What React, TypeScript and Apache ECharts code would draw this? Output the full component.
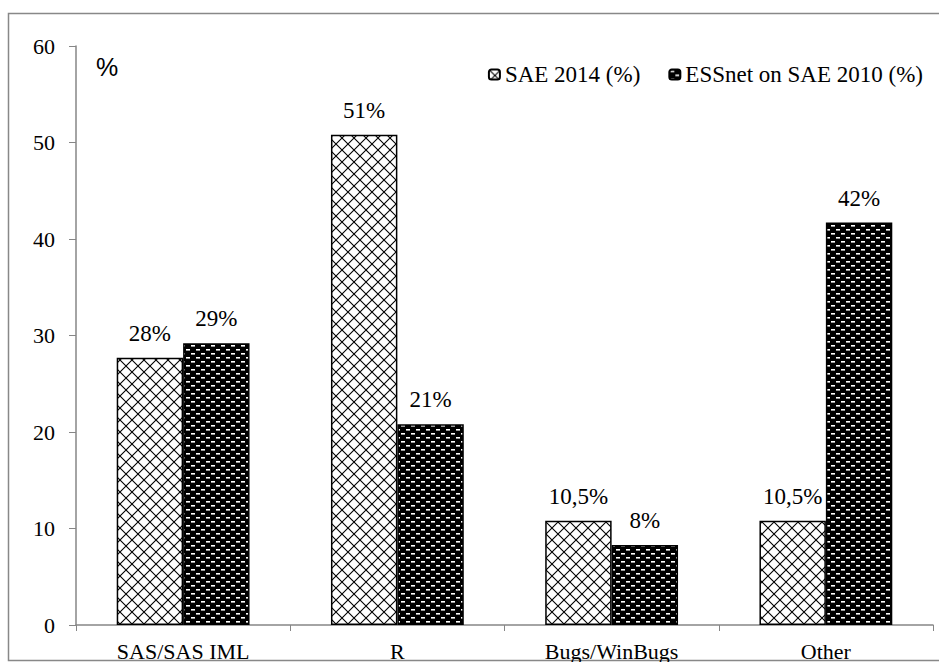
import React, { useEffect, useRef } from "react";
import * as echarts from "echarts";

const categories = ["SAS/SAS IML", "R", "Bugs/WinBugs", "Other"];
const seriesNames = ["SAE 2014 (%)", "ESSnet on SAE 2010 (%)"];
const sae2014 = [27.7, 50.8, 10.8, 10.8];
const essnet2010 = [29.2, 20.8, 8.3, 41.7];
const sae2014Labels = ["28%", "51%", "10,5%", "10,5%"];
const essnet2010Labels = ["29%", "21%", "8%", "42%"];
const yTicks = { min: 0, max: 60, interval: 10 };

function crossPattern(): HTMLCanvasElement {
  const c = document.createElement("canvas");
  const s = 12;
  c.width = s;
  c.height = s;
  const ctx = c.getContext("2d")!;
  ctx.fillStyle = "#ffffff";
  ctx.fillRect(0, 0, s, s);
  ctx.strokeStyle = "#000000";
  ctx.lineWidth = 1.1;
  ctx.beginPath();
  ctx.moveTo(0, 0);
  ctx.lineTo(s, s);
  ctx.moveTo(s, 0);
  ctx.lineTo(0, s);
  ctx.stroke();
  return c;
}

function dashPattern(): HTMLCanvasElement {
  const c = document.createElement("canvas");
  c.width = 10;
  c.height = 8;
  const ctx = c.getContext("2d")!;
  ctx.fillStyle = "#000000";
  ctx.fillRect(0, 0, 10, 8);
  ctx.fillStyle = "#ffffff";
  ctx.fillRect(1, 1, 4, 1.6);
  ctx.fillRect(6, 5, 4, 1.6);
  return c;
}

export default function App() {
  const ref = useRef<HTMLDivElement>(null);
  useEffect(() => {
    if (!ref.current) return;
    const chart = echarts.init(ref.current, undefined, { renderer: "svg" });
    const serif = "Liberation Serif";
    const labelStyle = {
      show: true,
      position: "top" as const,
      distance: 13,
      fontFamily: serif,
      fontSize: 23,
      color: "#000",
    };
    chart.setOption({
      animation: false,
      backgroundColor: "#ffffff",
      textStyle: { fontFamily: serif },
      grid: { left: 76, right: 6, top: 46, bottom: 34, containLabel: false },
      legend: {
        right: 11,
        top: 58,
        itemWidth: 11,
        itemHeight: 10,
        itemGap: 28,
        textStyle: { fontFamily: serif, fontSize: 23, color: "#000" },
        data: seriesNames,
      },
      graphic: [
        {
          type: "rect",
          shape: { x: 8.5, y: 13.5, width: 940, height: 647 },
          style: { fill: "none", stroke: "#888888", lineWidth: 1.5 },
          silent: true,
        },
        {
          type: "text",
          x: 96,
          y: 54,
          style: {
            text: "%",
            fontFamily: "Liberation Sans",
            fontSize: 25,
            fill: "#000",
          },
          silent: true,
        },
      ],
      xAxis: {
        type: "category",
        data: categories,
        axisLine: { lineStyle: { color: "#868686", width: 1.5 } },
        axisTick: { show: true, length: 6, lineStyle: { color: "#868686" } },
        axisLabel: { fontFamily: serif, fontSize: 22, color: "#000", margin: 15 },
      },
      yAxis: {
        type: "value",
        min: yTicks.min,
        max: yTicks.max,
        interval: yTicks.interval,
        axisLine: { show: true, lineStyle: { color: "#868686", width: 1.5 } },
        axisTick: { show: true, length: 7, lineStyle: { color: "#868686" } },
        splitLine: { show: false },
        axisLabel: { fontFamily: serif, fontSize: 22, color: "#000", margin: 21 },
      },
      series: [
        {
          name: seriesNames[0],
          type: "bar",
          data: sae2014,
          barGap: "0%",
          barCategoryGap: "38%",
          itemStyle: {
            color: { image: crossPattern(), repeat: "repeat" },
            borderColor: "#000",
            borderWidth: 1.5,
          },
          label: {
            ...labelStyle,
            formatter: (p: any) => sae2014Labels[p.dataIndex],
          },
          emphasis: { disabled: true },
        },
        {
          name: seriesNames[1],
          type: "bar",
          data: essnet2010,
          barGap: "0%",
          barCategoryGap: "38%",
          itemStyle: {
            color: { image: dashPattern(), repeat: "repeat" },
            borderColor: "#000",
            borderWidth: 1.5,
          },
          label: {
            ...labelStyle,
            formatter: (p: any) => essnet2010Labels[p.dataIndex],
          },
          emphasis: { disabled: true },
        },
      ],
    });
    return () => chart.dispose();
  }, []);
  return (
    <div
      ref={ref}
      style={{ position: "absolute", left: 0, top: 0, width: 939, height: 662 }}
    />
  );
}
